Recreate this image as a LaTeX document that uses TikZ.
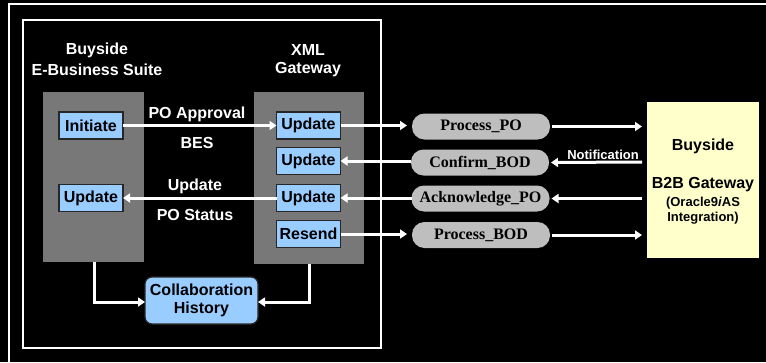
\documentclass[tikz,border=0pt]{standalone}
\usepackage{fontspec}
\setmainfont{Liberation Sans}
\newfontfamily\timesf{Liberation Serif}
\usetikzlibrary{arrows.meta,shapes.geometric}
\definecolor{lblue}{HTML}{99CCFF}
\definecolor{gbox}{HTML}{787878}
\definecolor{lgray}{HTML}{BEBEBE}
\definecolor{lyellow}{HTML}{FFFFCC}
\tikzset{
  lbl/.style={text=white,font=\fontsize{16}{18}\selectfont\bfseries,inner sep=0pt},
  bluebox/.style={draw=black!85,fill=lblue,line width=1.2pt,minimum width=64pt,minimum height=27pt,inner sep=0pt,outer sep=0pt,font=\fontsize{16}{18}\selectfont\bfseries},
  grayblock/.style={fill=gbox,draw=none,inner sep=0pt,outer sep=0pt},
  msg/.style={rectangle,rounded corners=12.5pt,fill=lgray,draw=none,minimum width=138pt,minimum height=26pt,inner sep=0pt,outer sep=0pt,font=\timesf\fontsize{16}{18}\selectfont\bfseries},
  flow/.style={draw=white,line width=3pt,-{Triangle[length=7pt,width=9pt]}},
  frameline/.style={draw=white,line width=2.2pt},
}
\begin{document}
\begin{tikzpicture}[x=1pt,y=-1pt]
\useasboundingbox (0,0) rectangle (766,362);
\fill[black] (0,0) rectangle (766,362);
% frames
\draw[white,line width=2pt] (9,370) -- (9,4) -- (770,4);
\draw[frameline] (23,20) rectangle (381,348);
% gray blocks
\node[grayblock,minimum width=101pt,minimum height=170pt] (lblock) at (93.5,177) {};
\node[grayblock,minimum width=110pt,minimum height=172pt] (rblock) at (309,178) {};
% headings
\node[lbl] (h1) at (97,50) {Buyside};
\node[lbl] (h2) at (97,70) {E-Business Suite};
\node[lbl] (h3) at (308,50) {XML};
\node[lbl] (h4) at (308,70) {Gateway};
% blue boxes
\node[bluebox] (init) at (91,125.5) {Initiate};
\node[bluebox] (lupd) at (91,198) {Update};
\node[bluebox] (u1) at (308.5,125.5) {Update};
\node[bluebox] (u2) at (308.5,161) {Update};
\node[bluebox] (u3) at (308.5,198) {Update};
\node[bluebox] (res) at (308.5,234) {Resend};
\node[draw=black!85,fill=lblue,line width=1.2pt,rounded corners=7pt,minimum width=113pt,minimum height=47pt,inner sep=0pt,outer sep=0pt,align=center,font=\fontsize{16}{18}\selectfont\bfseries] (collab) at (201.5,300.5) {Collaboration\\History};
% middle labels
\node[lbl] (t1) at (197,114) {PO Approval};
\node[lbl] (t2) at (197,143) {BES};
\node[lbl] (t3) at (195,186) {Update};
\node[lbl] (t4) at (195,215) {PO Status};
% messages
\node[msg] (pp) at (481,126.5) {Process\_PO};
\node[msg] (cb) at (480,162.5) {Confirm\_BOD};
\node[msg] (ap) at (480.5,198.5) {Acknowledge\_PO};
\node[msg] (pb) at (481,235) {Process\_BOD};
% B2B box
\node[fill=lyellow,draw=none,minimum width=112pt,minimum height=156pt,inner sep=0pt,outer sep=0pt] (b2b) at (703,180) {};
\node[inner sep=0pt,font=\fontsize{16}{18}\selectfont\bfseries] (b1) at (703,146) {Buyside};
\node[inner sep=0pt,font=\fontsize{16}{18}\selectfont\bfseries] (b2) at (703,185) {B2B Gateway};
\node[inner sep=0pt,font=\fontsize{13}{15}\selectfont\bfseries] (b3) at (703,203) {(Oracle9\textit{i}AS};
\node[inner sep=0pt,font=\fontsize{13}{15}\selectfont\bfseries] (b4) at (703,218) {Integration)};
\coordinate (e1) at (642,126.5);
\coordinate (e2) at (642,162);
\coordinate (e3) at (642,198.5);
\coordinate (e4) at (642,235);
% flows
\draw[flow] (init.east) -- (u1.west);
\draw[flow] (u3.west) -- (lupd.east);
\draw[flow,shorten >=5pt] (u1.east) -- (u1.east -| pp.west);
\draw[flow] (cb.west |- u2.east) -- (u2.east);
\draw[flow] (ap.west |- u3.east) -- (u3.east);
\draw[flow,shorten >=5pt] (res.east) -- (res.east -| pb.west);
\draw[flow,shorten <=2pt] (pp.east) -- (e1);
\draw[flow,shorten >=2pt] (e2) -- (cb.east);
\draw[flow,shorten >=2pt] (e3) -- (ap.east);
\draw[flow,shorten <=2pt] (pb.east) -- (e4);
\node[text=white,inner sep=0pt,anchor=south,font=\fontsize{13}{15}\selectfont\bfseries] (notif) at (603,160) {Notification};
% collaboration links
\draw[flow] (lblock.south -| 94,0) -- (94,302) -- (collab.west |- 0,302);
\draw[flow] (rblock.south -| 309,0) -- (309,302) -- (collab.east |- 0,302);
\end{tikzpicture}
\end{document}
